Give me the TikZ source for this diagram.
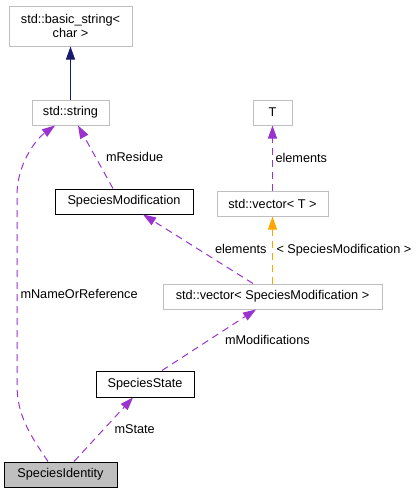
\documentclass[tikz,border=0pt]{standalone}
\usepackage{fontspec}
\setmainfont{Liberation Sans}
\usepackage{tikz}
\usetikzlibrary{arrows.meta, positioning}
\definecolor{usecol}{HTML}{9A32CD}
\definecolor{tplcol}{HTML}{FFA500}
\definecolor{inhcol}{HTML}{191970}
\definecolor{boxgray}{HTML}{BFBFBF}

\begin{document}
\begin{tikzpicture}[x=1pt, y=-1pt,
  cls/.style={draw=boxgray, line width=1pt, inner sep=0pt, minimum height=25pt, align=center, font=\fontsize{12.7}{14}\selectfont},
  doc/.style={cls, draw=black},
  lbl/.style={inner sep=0pt, font=\fontsize{12.7}{14}\selectfont},
  uses/.style={draw=usecol, line width=1pt, dash pattern=on 7pt off 5pt, -{Triangle[length=13pt, width=9pt, fill=usecol]}},
  tpl/.style={uses, draw=tplcol, -{Triangle[length=13pt, width=9pt, fill=tplcol]}},
  inh/.style={draw=inhcol, line width=1pt, -{Triangle[length=13pt, width=9pt, fill=inhcol]}}
]
  \useasboundingbox (0,0) rectangle (419,493);

  \node[cls, minimum width=123pt, minimum height=40pt] (bstr) at (70.5,26) {std::basic\_string<\\char >};
  \node[cls, minimum width=77pt, below=53pt of bstr] (str) {std::string};
  \node[cls, minimum width=39pt, right=143pt of str] (T) {T};
  \node[cls, minimum width=111pt, below=65pt of T] (vecT) {std::vector< T >};
  \node[cls, minimum width=219pt, below=67pt of vecT] (vecSM) {std::vector< SpeciesModification >};
  \node[doc, minimum width=138pt] (smod) at (124,201.5) {SpeciesModification};
  \node[doc, minimum width=98pt, minimum height=26pt] (sstate) at (145,384) {SpeciesState};
  \node[doc, fill=boxgray, minimum width=113pt] (sid) at (60.5,474.5) {SpeciesIdentity};

  \draw[inh] (str) -- (bstr);
  \draw[uses] ([xshift=-11pt]smod.north) -- node[lbl, right=10pt] (lresidue) {mResidue} ([xshift=7.5pt]str.south);
  \draw[uses] (vecT) -- node[lbl, right=2.5pt] (lelemT) {elements} (T);
  \draw[tpl] (vecSM) -- node[lbl, right=3.5pt] (ltpl) {< SpeciesModification >} (vecT);
  \draw[uses] ([xshift=-19.5pt]vecSM.north) -- node[lbl, right=16.5pt] (lelemSM) {elements} ([xshift=19pt]smod.south);
  \draw[uses] ([xshift=17pt]sstate.north) -- node[lbl, right=15.5pt] (lmods) {mModifications} ([xshift=-16.5pt]vecSM.south);
  \draw[uses] ([xshift=13.5pt]sid.north) -- node[lbl, right=10.5pt] (lstate) {mState} ([xshift=-12pt]sstate.south);
  \draw[uses] ([xshift=-12.5pt]sid.north) .. controls (30,435) and (17,415) .. (17,385)
    -- node[lbl, right=3pt, pos=0.48] (lname) {mNameOrReference} (17,195)
    .. controls (17,165) and (35,140) .. ([xshift=-15.5pt]str.south);
\end{tikzpicture}
\end{document}
